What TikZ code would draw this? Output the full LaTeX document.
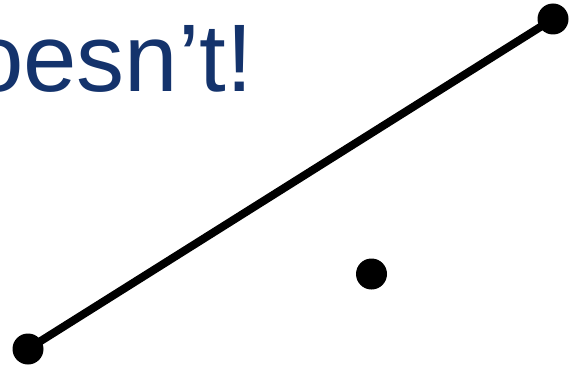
\documentclass[tikz,border=0pt]{standalone}
\usepackage{fontspec}
\setmainfont{Liberation Sans}
\definecolor{titleblue}{RGB}{20,51,108}
\begin{document}
\begin{tikzpicture}[x=1pt,y=-1pt,
  dot/.style={circle,fill=black,inner sep=0pt,minimum size=31pt},
  seg/.style={line width=8pt,black}]
\useasboundingbox (0,0) rectangle (569,366);
\clip (0,0) rectangle (569,366);
\node[anchor=base west,inner sep=0pt,text=titleblue,font=\fontsize{96}{100}\selectfont] (title) at (-30,92) {oesn’t!};
\node[dot] (a) at (28,349) {};
\node[dot] (b) at (553,19) {};
\node[dot] (c) at (371.5,274) {};
\draw[seg] (a.center) -- (b.center);
\end{tikzpicture}
\end{document}
